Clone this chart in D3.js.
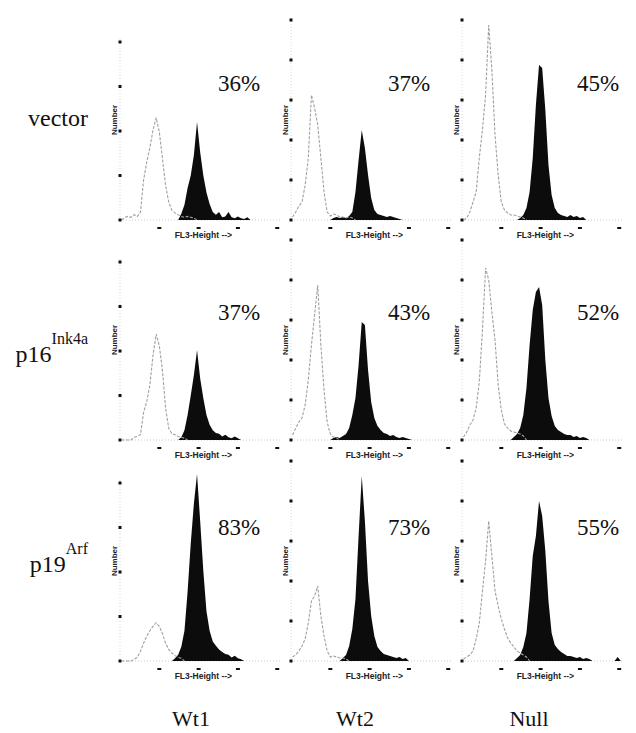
<!DOCTYPE html>
<html><head><meta charset="utf-8">
<script src="https://cdn.jsdelivr.net/npm/d3@7/dist/d3.min.js"></script>
<style>html,body{margin:0;padding:0;background:#fff;}svg{display:block;}</style>
</head><body>
<script>
// ---------- data ----------
const columns = ["Wt1", "Wt2", "Null"];
const rowNames = ["vector", "p16", "p19"];
const rowSups = ["", "Ink4a", "Arf"];
const pctVector = ["36%", "37%", "45%"];
const pctP16 = ["37%", "43%", "52%"];
const pctP19 = ["83%", "73%", "55%"];
const xTickValues = [0, 250, 500, 750, 1000];
const binWidth = 20; // FL3 channels per histogram bin
const xLabel = "FL3-Height -->";
const yLabel = "Number";

// histogram counts per bin (bin i starts at channel i*20); grey = control peak, black = filled peak
const grayVectorWt1 = [0,3,4,3,6,4,9,45,65,81,101,115,99,69,39,20,11,8,6,4,3,4,3,2];
const blackVectorWt1 = [0,0,0,0,0,0,0,0,0,0,0,0,0,0,0,0,0,0,0,7,17,36,50,73,110,76,50,31,18,9,6,9,3,4,9,3,2,4,2,1,3];
const grayVectorWt2 = [3,8,14,18,35,62,125,112,95,62,28,8,4,6,5,3,3,2,3,2];
const blackVectorWt2 = [0,0,0,0,0,0,0,0,0,0,0,0,0,2,3,2,3,2,4,8,28,60,90,72,45,22,10,6,5,4,3,4,3,2,1];
const grayVectorNull = [0,2,8,18,28,62,90,125,195,150,85,45,18,10,7,5,5,4,3,2];
const blackVectorNull = [0,0,0,0,0,0,0,0,0,0,0,0,0,0,0,0,0,0,2,5,12,28,62,115,155,152,110,55,25,12,7,5,4,3,5,3,4,2,3];

const grayP16Wt1 = [0,0,0,0,3,4,6,31,43,62,95,119,106,78,36,13,7,6,4,3,2];
const blackP16Wt1 = [0,0,0,0,0,0,0,0,0,0,0,0,0,0,0,0,0,0,0,3,11,28,50,73,101,69,47,28,17,11,8,7,4,6,3,2,4,2];
const grayP16Wt2 = [5,12,18,22,35,60,95,125,155,95,50,18,6,3,2];
const blackP16Wt2 = [0,0,0,0,0,0,0,0,0,0,0,0,0,2,3,2,4,6,12,25,42,75,118,115,70,38,22,14,10,7,6,4,5,3,2,3,2,1];
const grayP16Null = [3,8,15,20,32,58,110,172,160,128,100,55,30,16,12,9,8,7,6,4];
const blackP16Null = [0,0,0,0,0,0,0,0,0,0,0,0,0,0,0,0,3,6,12,25,52,95,130,148,153,135,80,42,24,14,10,8,6,5,5,3,4,2,3,2];

const grayP19Wt1 = [0,0,0,0,2,4,11,20,28,34,39,43,39,31,20,13,9,6,4,3];
const blackP19Wt1 = [0,0,0,0,0,0,0,0,0,0,0,0,0,0,0,0,0,3,7,16,34,78,132,177,210,157,101,56,34,22,17,13,10,8,7,4,6,3,2];
const grayP19Wt2 = [4,6,10,15,22,38,60,65,75,45,25,10,4,5,4,3,3,2];
const blackP19Wt2 = [0,0,0,0,0,0,0,0,0,0,0,0,0,0,0,0,3,6,15,32,62,125,185,140,80,45,25,14,10,7,6,5,4,3,4,2,3];
const grayP19Null = [2,4,6,10,22,38,70,100,140,105,70,55,42,32,23,18,14,10,8,6,4];
const blackP19Null = [0,0,0,0,0,0,0,0,0,0,0,0,0,0,0,0,0,3,6,14,28,62,105,125,160,145,110,60,28,16,12,9,7,5,5,4,3,4,2,3,2,0,0,0,0,0,0,0,0,4];

const grayData = [[grayVectorWt1, grayVectorWt2, grayVectorNull],[grayP16Wt1, grayP16Wt2, grayP16Null],[grayP19Wt1, grayP19Wt2, grayP19Null]];
const blackData = [[blackVectorWt1, blackVectorWt2, blackVectorNull],[blackP16Wt1, blackP16Wt2, blackP16Null],[blackP19Wt1, blackP19Wt2, blackP19Null]];
const pctData = [pctVector, pctP16, pctP19];

// ---------- layout ----------
const W = 636, H = 733;
const axisX = [120, 291, 462];
const rowBase = [220, 440, 661];
const plotW = 161;
const plotH = [178, 200, 200];
const yTicks = [[0,50,100,150,200],[0,40,80,120,160,200],[0,40,80,120,160,200]];
const pctX = [218, 388, 577];
const pctY = [91, 320, 535];
const serif = "'Liberation Serif','Times New Roman',serif";
const sans = "'Liberation Sans',Arial,sans-serif";

const svg = d3.select("body").append("svg").attr("width", W).attr("height", H);
svg.append("rect").attr("width", W).attr("height", H).attr("fill", "#fff");

for (let r = 0; r < 3; r++) {
  for (let c = 0; c < 3; c++) {
    const x = d3.scaleLinear().domain([0, 1024]).range([axisX[c], axisX[c] + plotW]);
    const y = d3.scaleLinear().domain([0, 200]).range([rowBase[r], rowBase[r] - plotH[c]]);
    const g = svg.append("g");

    // faint dotted axes
    g.append("line").attr("x1", x(0)).attr("x2", x(0)).attr("y1", y(0)).attr("y2", y(200) - 4)
      .attr("stroke", "#cfcfcf").attr("stroke-width", 0.8).attr("stroke-dasharray", "1,2");
    g.append("line").attr("x1", x(0)).attr("x2", x(1024)).attr("y1", y(0)).attr("y2", y(0))
      .attr("stroke", "#bdbdbd").attr("stroke-width", 0.8).attr("stroke-dasharray", "1,2");

    // histograms (points at bin centres)
    const bArr = blackData[r][c];
    const bk = bArr.map((v, i) => ({ch: (i + 0.5) * binWidth, v}));
    bk.push({ch: (bArr.length + 0.5) * binWidth, v: 0});
    g.append("path").datum(bk)
      .attr("d", d3.area().curve(d3.curveLinear).x(d => x(d.ch)).y0(y(0)).y1(d => y(d.v)))
      .attr("fill", "#0c0c0c");

    const gArr = grayData[r][c];
    const gr = gArr.map((v, i) => ({ch: (i + 0.5) * binWidth, v}));
    gr.push({ch: (gArr.length + 0.5) * binWidth, v: 0});
    g.append("path").datum(gr)
      .attr("d", d3.line().curve(d3.curveLinear).x(d => x(d.ch)).y(d => y(d.v)))
      .attr("fill", "none").attr("stroke", "#a0a0a0").attr("stroke-width", 1.1)
      .attr("stroke-dasharray", "3,1.5");

    // y tick dots
    g.selectAll(".yt").data(yTicks[c]).enter().append("rect")
      .attr("x", x(0) - 1.5).attr("y", d => y(d) - 1.5).attr("width", 3).attr("height", 3)
      .attr("fill", "#111");
    // x tick dashes
    g.selectAll(".xt").data(xTickValues.slice(1)).enter().append("rect")
      .attr("x", d => x(d) - 2).attr("y", y(0) + 7).attr("width", 4).attr("height", 2)
      .attr("fill", "#111");

    // axis labels
    g.append("text").attr("x", x(530)).attr("y", y(0) + 18)
      .attr("text-anchor", "middle").attr("font-family", sans).attr("font-size", 8.5)
      .attr("font-weight", "bold").attr("fill", "#222").text(xLabel);
    g.append("text").attr("transform", `translate(${x(0) - 3},${y(0) - 100}) rotate(-90)`)
      .attr("text-anchor", "middle").attr("font-family", sans).attr("font-size", 8)
      .attr("font-weight", "bold").attr("fill", "#222").text(yLabel);

    // percentage
    g.append("text").attr("x", pctX[c]).attr("y", pctY[r])
      .attr("font-family", serif).attr("font-size", 23).attr("fill", "#111")
      .text(pctData[r][c]);
  }
}

// row labels
const rowLabelY = [126, 362, 572];
rowNames.forEach((name, r) => {
  const t = svg.append("text").attr("x", 88).attr("y", rowLabelY[r])
    .attr("text-anchor", "end").attr("font-family", serif).attr("font-size", 24).attr("fill", "#111");
  t.append("tspan").text(name);
  if (rowSups[r]) {
    t.append("tspan").attr("dy", -18).attr("font-size", 16).text(rowSups[r]);
  }
});

// column labels
const colLabelX = [191, 355, 529];
columns.forEach((name, c) => {
  svg.append("text").attr("x", colLabelX[c]).attr("y", 726)
    .attr("text-anchor", "middle").attr("font-family", serif).attr("font-size", 22)
    .attr("fill", "#111").text(name);
});
</script>
</body></html>
